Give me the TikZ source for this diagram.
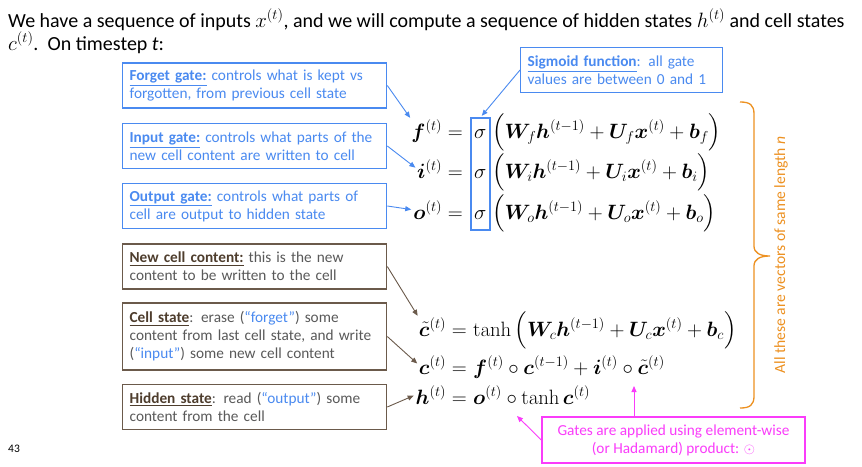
\documentclass[tikz,border=0pt]{standalone}
\usepackage[no-math]{fontspec}
\setmainfont{Carlito}
\usepackage{amsmath}
\usepackage{bm}
\usepackage{xcolor}
\usetikzlibrary{arrows.meta}

\definecolor{gateblue}{HTML}{4A8AF0}
\definecolor{boxbrown}{HTML}{6B5A4B}
\definecolor{titlebrown}{HTML}{4E3D2D}
\definecolor{bodygrey}{HTML}{595959}
\definecolor{vecorange}{HTML}{ED9121}
\definecolor{prodpink}{HTML}{FA3CFA}

\begin{document}
\begin{tikzpicture}[x=1pt,y=-1pt,
    note/.style={draw, line width=1.3pt, align=left, inner xsep=7pt, text width=#1,
        minimum height=45pt, anchor=west, font=\fontsize{15.3}{18}\selectfont},
    bluenote/.style={note=#1, draw=gateblue, text=gateblue},
    brownnote/.style={note=#1, draw=boxbrown, text=bodygrey},
    eq/.style={inner sep=0pt, font=\fontsize{20}{24}\selectfont},
    lhs/.style={eq, anchor=base east},
    rhs/.style={eq, anchor=base west},
    pointer/.style={-{Triangle[length=6pt,width=5pt]}, line width=0.9pt, shorten >=2pt}]
    \path[use as bounding box, fill=white] (0,0) rectangle (862,466);

    % Heading
    \node[anchor=base west, inner sep=0pt, font=\fontsize{20}{24}\selectfont] (line1) at (8,27)
        {We have a sequence of inputs $x^{(t)}$, and we will compute a sequence of hidden states $h^{(t)}$ and cell states};
    \node[anchor=base west, inner sep=0pt, font=\fontsize{20}{24}\selectfont] (line2) at (8,50)
        {$c^{(t)}$.\ \ On timestep \textit{t}:};
    \node[anchor=base west, inner sep=0pt, font=\fontsize{11.5}{13}\selectfont] (pageno) at (8,452) {43};

    % Gate notes
    \node[bluenote=250pt] (forget) at (122,85.5)
        {\underline{\textbf{Forget gate:}} controls what is kept vs\\forgotten, from previous cell state};
    \node[bluenote=188pt] (sigmoid) at (520,70)
        {\underline{\textbf{Sigmoid function}}: all gate\\values are between 0 and 1};
    \node[bluenote=250pt] (input) at (122,146)
        {\underline{\textbf{Input gate:}} controls what parts of the\\new cell content are written to cell};
    \node[bluenote=250pt] (output) at (122,206)
        {\underline{\textbf{Output gate:}} controls what parts of\\cell are output to hidden state};

    % State notes
    \node[brownnote=250pt] (newcell) at (122,266.5)
        {\textcolor{titlebrown}{\underline{\textbf{New cell content:}}} this is the new\\content to be written to the cell};
    \node[brownnote=250pt, minimum height=67pt] (cellst) at (122,336.5)
        {\textcolor{titlebrown}{\underline{\textbf{Cell state}}}: erase (\textcolor{gateblue}{“forget”}) some\\content from last cell state, and write\\(\textcolor{gateblue}{“input”}) some new cell content};
    \node[brownnote=250pt] (hidden) at (122,407)
        {\textcolor{titlebrown}{\underline{\textbf{Hidden state}}}: read (\textcolor{gateblue}{“output”}) some\\content from the cell};

    % Gate equations
    \node[lhs] (fl) at (463,138) {$\bm{f}^{(t)} =$};
    \node[rhs] (fs) at (474,138) {$\sigma$};
    \node[rhs] (fr) at (492,138) {$\Bigl(\bm{W}_f\bm{h}^{(t-1)} + \bm{U}_f\bm{x}^{(t)} + \bm{b}_f\Bigr)$};
    \node[lhs] (il) at (463,178) {$\bm{i}^{(t)} =$};
    \node[rhs] (is) at (474,178) {$\sigma$};
    \node[rhs] (ir) at (492,178) {$\Bigl(\bm{W}_i\bm{h}^{(t-1)} + \bm{U}_i\bm{x}^{(t)} + \bm{b}_i\Bigr)$};
    \node[lhs] (ol) at (463,219) {$\bm{o}^{(t)} =$};
    \node[rhs] (os) at (474,219) {$\sigma$};
    \node[rhs] (or) at (492,219) {$\Bigl(\bm{W}_o\bm{h}^{(t-1)} + \bm{U}_o\bm{x}^{(t)} + \bm{b}_o\Bigr)$};
    \node[draw=gateblue, line width=1.3pt, minimum width=19pt, minimum height=112pt] (sigbox) at (480.5,174) {};

    % State equations
    \node[lhs] (ctl) at (467,336) {$\tilde{\bm{c}}^{(t)} =$};
    \node[rhs] (ctr) at (473,336) {$\tanh\,\Bigl(\bm{W}_c\bm{h}^{(t-1)} + \bm{U}_c\bm{x}^{(t)} + \bm{b}_c\Bigr)$};
    \node[lhs] (cl) at (467,374) {$\bm{c}^{(t)} =$};
    \node[rhs] (cr) at (473,374) {$\bm{f}^{(t)} \circ \bm{c}^{(t-1)} + \bm{i}^{(t)} \circ \tilde{\bm{c}}^{(t)}$};
    \node[lhs] (hl) at (467,404) {$\bm{h}^{(t)} =$};
    \node[rhs] (hr) at (473,404) {$\bm{o}^{(t)} \circ \tanh\bm{c}^{(t)}$};

    % Pointers
    \draw[pointer, gateblue] (forget.east) -- (fl.north west);
    \draw[pointer, gateblue] (sigmoid.west) -- (sigbox.north);
    \draw[pointer, gateblue] (input.east) -- (il.west);
    \draw[pointer, gateblue] (output.east) -- (ol.west);
    \draw[pointer, boxbrown] (newcell.east) -- (ctl.north west);
    \draw[pointer, boxbrown] (cellst.east) -- (cl.west);
    \draw[pointer, boxbrown] (hidden.east) -- (hl.west);

    % Hadamard product note
    \node[draw=prodpink, text=prodpink, line width=1.3pt, align=center, minimum width=263pt,
        minimum height=46pt, font=\fontsize{15.3}{18}\selectfont] (prod) at (673.5,440)
        {Gates are applied using element-wise\\(or Hadamard) product: $\odot$};
    \coordinate (circc) at (634,386);
    \coordinate (circh) at (517,416);
    \draw[pointer, prodpink, shorten >=0pt] (prod.north -| circc) -- (circc);
    \draw[pointer, prodpink, shorten >=0pt] (prod.west) -- (circh);

    % Same length brace
    \draw[vecorange, line width=1.3pt] (740,102) .. controls (750,102) and (754,105) .. (754,114)
        -- (754,246) .. controls (754,253) and (760,256) .. (770,256)
        .. controls (760,256) and (754,259) .. (754,266) -- (754,396)
        .. controls (754,405) and (750,408) .. (740,408);
    \node[rotate=90, text=vecorange, font=\fontsize{15.6}{18}\selectfont] (lenlabel) at (781,255)
        {All these are vectors of same length \textit{n}};
\end{tikzpicture}
\end{document}
